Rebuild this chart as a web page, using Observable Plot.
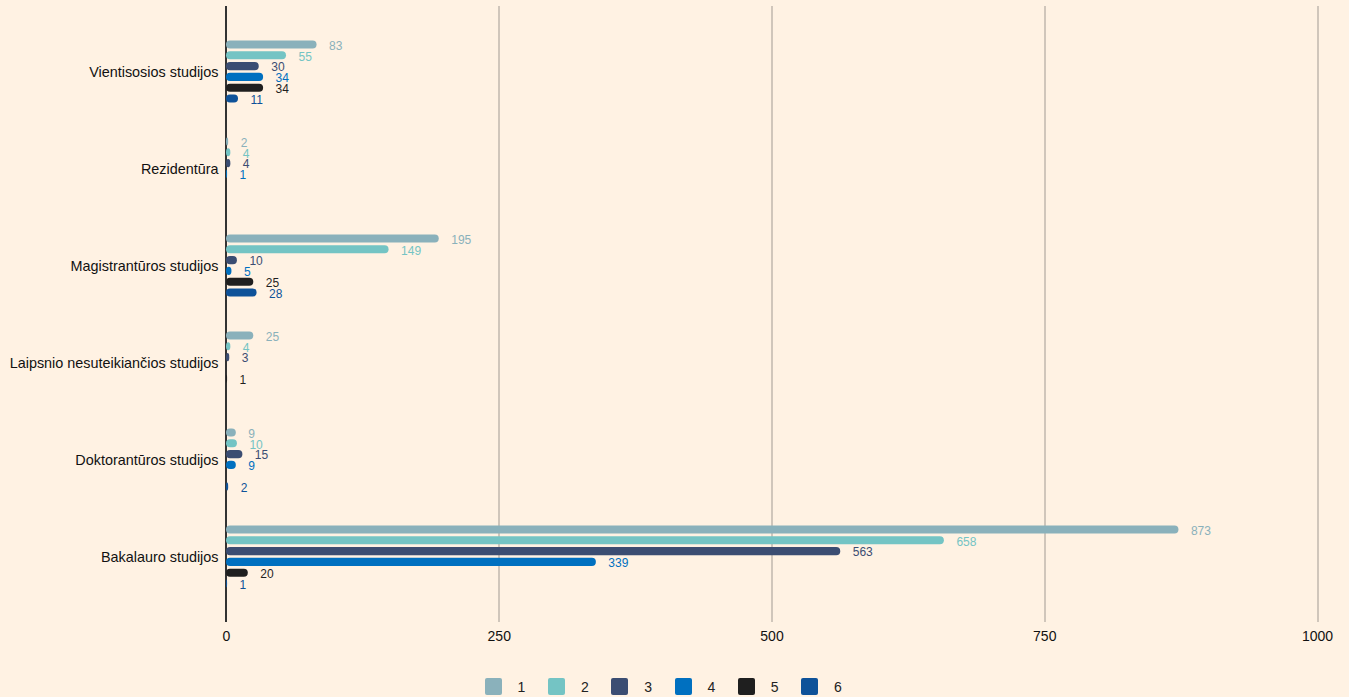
<!DOCTYPE html>
<html>
<head>
<meta charset="utf-8">
<script src="https://cdn.jsdelivr.net/npm/d3@7"></script>
<script src="https://cdn.jsdelivr.net/npm/@observablehq/plot@0.6"></script>
<style>
  html, body { margin: 0; padding: 0; background: #FFF2E3; }
  body { width: 1349px; height: 697px; overflow: hidden; font-family: "Liberation Sans", Arial, sans-serif; }
  #legend { display: flex; justify-content: center; align-items: center; margin-top: 18px; margin-left: 0px; font-size: 14px; color: #222; }
  .item { display: flex; align-items: center; margin-right: 22.5px; }
  .sw { width: 17px; height: 17px; border-radius: 2px; margin-right: 16px; }
</style>
</head>
<body>
<div id="chart"></div>
<div id="legend"></div>
<script>
const categories = ["Vientisosios studijos", "Rezidentūra", "Magistrantūros studijos", "Laipsnio nesuteikiančios studijos", "Doktorantūros studijos", "Bakalauro studijos"];
const seriesNames = ["1", "2", "3", "4", "5", "6"];
const s1 = [83, 2, 195, 25, 9, 873];
const s2 = [55, 4, 149, 4, 10, 658];
const s3 = [30, 4, 10, 3, 15, 563];
const s4 = [34, 1, 5, null, 9, 339];
const s5 = [34, null, 25, 1, null, 20];
const s6 = [11, null, 28, null, 2, 1];
const colors = ["#8AB1BB", "#74C4C4", "#3B4D72", "#0070C0", "#1F1F1F", "#0E5299"];
const xTicks = [0, 250, 500, 750, 1000];
const gridTicks = [250, 500, 750, 1000];

const allSeries = [s1, s2, s3, s4, s5, s6];
const data = [];
categories.forEach((c, i) => {
  allSeries.forEach((s, j) => {
    if (s[i] != null) data.push({category: c, series: seriesNames[j], value: s[i]});
  });
});
const gridRows = categories.flatMap(c => gridTicks.map(t => ({category: c, tick: t})));
const zeroRows = categories.map(c => ({category: c, tick: 0}));

const chart = Plot.plot({
  width: 1349,
  height: 660,
  marginLeft: 226,
  marginRight: 32,
  marginTop: 5,
  marginBottom: 37,
  style: {background: "#FFF2E3", fontFamily: "Liberation Sans, Arial, sans-serif", color: "#111"},
  x: {domain: [0, 1000], axis: null},
  y: {domain: seriesNames, paddingInner: 0.25, paddingOuter: 0.135, round: false, axis: null},
  fy: {domain: categories, paddingInner: 0.334, paddingOuter: 0.334, axis: null},
  color: {domain: seriesNames, range: colors},
  marks: [
    Plot.ruleX(gridRows, {x: "tick", fy: "category", stroke: "#D0C6BB", strokeWidth: 2, shapeRendering: "crispEdges", insetTop: -32.6, insetBottom: -32.6}),
    Plot.ruleX(zeroRows, {x: "tick", fy: "category", stroke: "#333", strokeWidth: 2, dx: -1, shapeRendering: "crispEdges", insetTop: -32.6, insetBottom: -32.6}),
    Plot.barX(data, {x: "value", y: "series", fy: "category", fill: "series", rx: 4}),
    Plot.text(data, {x: "value", y: "series", fy: "category", text: d => String(d.value), fill: "series", dx: 12, dy: 1, textAnchor: "start", fontSize: 12}),
    Plot.axisFy({anchor: "left", tickSize: 0, tickPadding: 8, fontSize: 14.4, label: null}),
    Plot.axisX({ticks: xTicks, tickSize: 0, tickPadding: 41.5, fontSize: 14, label: null, tickFormat: d => String(d)})
  ]
});
document.getElementById("chart").appendChild(chart);

const legend = document.getElementById("legend");
seriesNames.forEach((s, i) => {
  const it = document.createElement("div");
  it.className = "item";
  const sw = document.createElement("div");
  sw.className = "sw";
  sw.style.background = colors[i];
  const t = document.createElement("span");
  t.textContent = s;
  it.appendChild(sw);
  it.appendChild(t);
  legend.appendChild(it);
});
</script>
</body>
</html>
